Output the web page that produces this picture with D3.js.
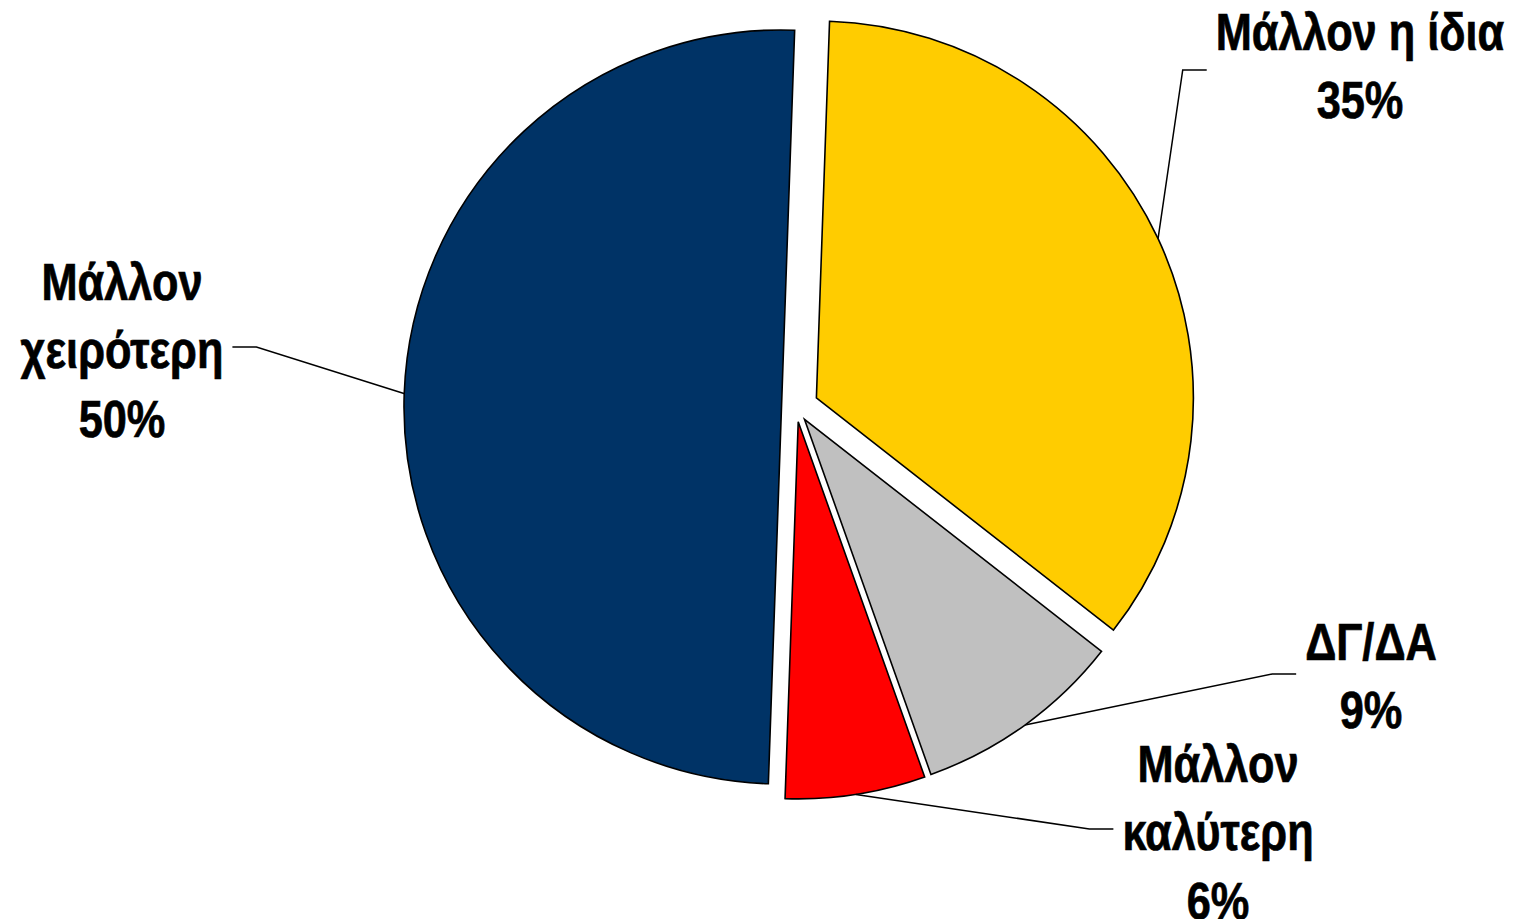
<!DOCTYPE html>
<html>
<head>
<meta charset="utf-8">
<script src="https://cdn.jsdelivr.net/npm/d3@7"></script>
<style>
  html, body { margin: 0; padding: 0; background: #fff; }
  svg { display: block; }
  .lbl { font-family: "Liberation Sans", Arial, sans-serif; font-weight: bold; fill: #000; stroke: #000; stroke-width: 0.7px; }
</style>
</head>
<body>
<div id="chart"></div>
<script>
// data
const categories = ["Μάλλον η ίδια", "ΔΓ/ΔΑ", "Μάλλον καλύτερη", "Μάλλον χειρότερη"]
const values = [35, 9, 6, 50]
const colors = ["#FFCC00", "#C0C0C0", "#FF0000", "#003366"]

// label text broken over lines
const labelLines = [
    ["Μάλλον η ίδια"],
    ["ΔΓ/ΔΑ"],
    ["Μάλλον", "καλύτερη"],
    ["Μάλλον", "χειρότερη"]
]

const width = 1517
const height = 919
const center = [796, 407.5]
const radius = 377
const startDeg = 2
const explode = [22.5, 14.5, 14.5, 14.5] // px pulled out along the bisector

// label layout: centre x, first baseline, leader height, side the leader arrives from
const labelPos = [
    {x: 1360, y: 50, ly: 70, side: "left"},
    {x: 1371, y: 660, ly: 674, side: "left"},
    {x: 1218, y: 782, ly: 829, side: "left"},
    {x: 122, y: 300, ly: 347, side: "right"}
]
const lineStep = 68.5
const fontSize = 51
const narrow = 0.85 // squeeze to look like a narrow face

const svg = d3.select("#chart").append("svg")
    .attr("width", width)
    .attr("height", height)
    .attr("viewBox", [0, 0, width, height])

const rad = Math.PI / 180
const pie = d3.pie()
    .sort(null)
    .startAngle(startDeg * rad)
    .endAngle(startDeg * rad + 2 * Math.PI)

const arcs = pie(values)
const arc = d3.arc().innerRadius(0).outerRadius(radius)

// centre of each exploded slice
const sliceCenter = (d, i) => {
    const mid = (d.startAngle + d.endAngle) / 2
    return [center[0] + explode[i] * Math.sin(mid), center[1] - explode[i] * Math.cos(mid)]
}

svg.append("g")
    .selectAll("path")
    .data(arcs)
    .join("path")
    .attr("transform", (d, i) => `translate(${sliceCenter(d, i)})`)
    .attr("d", arc)
    .attr("fill", (d, i) => colors[i])
    .attr("stroke", "#000")
    .attr("stroke-width", 1.6)
    .attr("stroke-linejoin", "miter")

// labels
const labels = svg.append("g")
    .selectAll("g")
    .data(arcs)
    .join("g")
    .attr("transform", (d, i) => `translate(${labelPos[i].x},0) scale(${narrow},1)`)
    .append("text")
    .attr("class", "lbl")
    .attr("font-size", fontSize)
    .attr("text-anchor", "middle")

labels.each(function(d, i) {
    const t = d3.select(this)
    const lines = labelLines[i].concat([d3.format(".0f")(values[i]) + "%"])
    lines.forEach((s, k) => {
        t.append("tspan")
            .attr("x", 0)
            .attr("y", labelPos[i].y + k * lineStep)
            .text(s)
    })
})

// leader lines: arc midpoint -> elbow -> short horizontal next to the label
const leaders = svg.append("g")
labels.each(function(d, i) {
    const box = this.getBBox()
    const left = labelPos[i].x + box.x * narrow
    const right = left + box.width * narrow
    const mid = (d.startAngle + d.endAngle) / 2
    const c = sliceCenter(d, i)
    const p0 = [c[0] + radius * Math.sin(mid), c[1] - radius * Math.cos(mid)]
    const gap = 9, run = 24
    const xEnd = labelPos[i].side === "left" ? left - gap : right + gap
    const xElb = labelPos[i].side === "left" ? xEnd - run : xEnd + run
    leaders.append("path")
        .attr("d", d3.line()([p0, [xElb, labelPos[i].ly], [xEnd, labelPos[i].ly]]))
        .attr("fill", "none")
        .attr("stroke", "#000")
        .attr("stroke-width", 1.5)
})
</script>
</body>
</html>
